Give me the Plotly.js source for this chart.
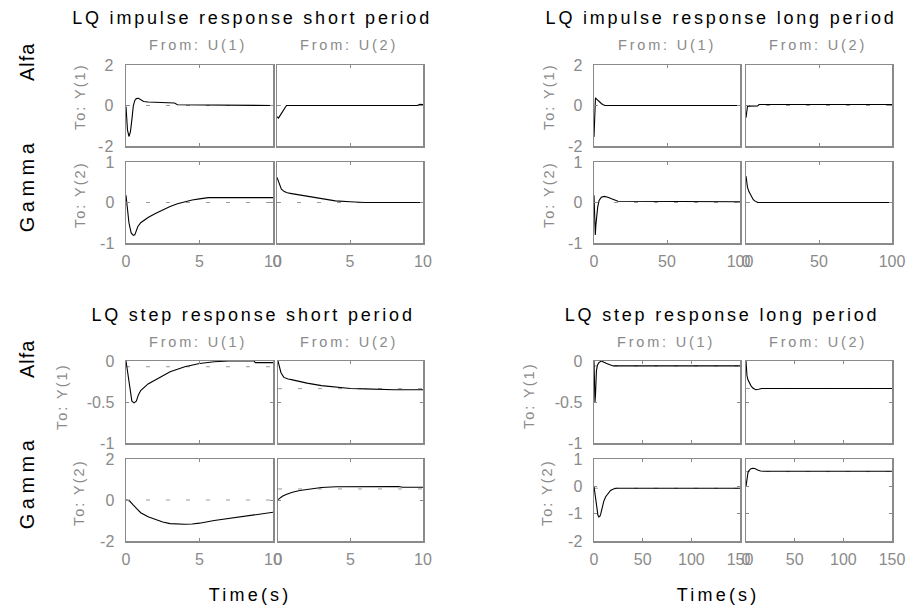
<!DOCTYPE html>
<html>
<head>
<meta charset="utf-8">
<script src="https://cdn.plot.ly/plotly-3.0.1.min.js"></script>
<style>
  html,body{margin:0;padding:0;background:#fff;}
  .xtick text,.ytick text{letter-spacing:1px;}
</style>
</head>
<body>
<div id="chart" style="width:909px;height:611px;"></div>
<script>
// ---------- Titles / labels ----------
const groupTitles = ['LQ impulse response short period','LQ impulse response long period',
                     'LQ step response short period','LQ step response long period'];
const fromLabels = ['From: U(1)','From: U(2)'];
const toLabels = ['To: Y(1)','To: Y(2)'];
const rowNames = ['Alfa','Gamma'];
const timeLabel = 'Time(s)';

// ---------- Axis ticks ----------
const xTickShort = [0,5,10];       const xTickShortText = ['0','5','10'];
const xTickImpLong = [0,50,100];   const xTickImpLongText = ['0','50','100'];
const xTickStepLong = [0,50,100,150]; const xTickStepLongText = ['0','50','100','150'];
const yTickImpY1 = [-2,0,2];       const yTickImpY1Text = ['-2','0','2'];
const yTickImpY2 = [-1,0,1];       const yTickImpY2Text = ['-1','0','1'];
const yTickStepY1 = [-1,-0.5,0];   const yTickStepY1Text = ['-1','-0.5','0'];
const yTickStepSY2 = [-2,0,2];     const yTickStepSY2Text = ['-2','0','2'];
const yTickStepLY2 = [-2,-1,0,1];  const yTickStepLY2Text = ['-2','-1','0','1'];

// ---------- Impulse response, short period ----------
const impS11_t = [0,0.1,0.2,0.3,0.4,0.5,0.6,0.7,0.85,1.0,1.2,1.5,2,3,3.3,3.5,5,7.4,7.6,10];
const impS11_y = [-0.05,-1.2,-1.53,-1.3,-0.7,0,0.25,0.34,0.36,0.3,0.2,0.17,0.15,0.13,0.12,0.04,0.03,0.03,0,0];
const impS12_t = [0,0.1,0.25,0.45,0.65,9.6,9.8,10];
const impS12_y = [-0.55,-0.62,-0.45,-0.2,0,0,0.06,0.05];
const impS21_t = [0,0.1,0.2,0.35,0.5,0.6,0.7,0.8,1.0,1.5,2,2.5,3,3.5,4,4.5,5,5.6,10];
const impS21_y = [0.18,-0.2,-0.5,-0.75,-0.81,-0.8,-0.72,-0.6,-0.5,-0.37,-0.27,-0.18,-0.1,-0.03,0.02,0.06,0.09,0.12,0.12];
const impS22_t = [0,0.15,0.3,0.5,0.7,1,1.5,2,2.5,3,3.5,4,5,6,8,10];
const impS22_y = [0.62,0.45,0.33,0.27,0.24,0.22,0.19,0.16,0.12,0.09,0.06,0.04,0.02,0,0,0];

// ---------- Impulse response, long period ----------
const impL11_t = [0,0.3,0.6,1,2,3,4,5,6,7.5,100];
const impL11_y = [-1.55,-1.0,0.1,0.38,0.3,0.22,0.15,0.1,0.05,0,0];
const impL12_t = [0,0.5,1,2,8,9,100];
const impL12_y = [-0.6,-0.3,-0.05,-0.03,-0.02,0.05,0.05];
const impL21_t = [0,0.4,0.9,1.3,1.8,2.5,3.5,5,7,9.5,12,14,16.5,100];
const impL21_y = [0.18,-0.5,-0.8,-0.55,-0.3,-0.12,0.05,0.13,0.15,0.13,0.09,0.06,0.03,0.02];
const impL22_t = [0,0.5,1,2,3,4,5,6,8,100];
const impL22_y = [0.65,0.5,0.38,0.27,0.19,0.12,0.07,0.04,0,0];

// ---------- Step response, short period ----------
const stepS11_t = [0,0.1,0.2,0.3,0.4,0.55,0.7,0.85,1.0,1.5,2,2.5,3,3.5,4,5,6,7,8.7,8.8,10];
const stepS11_y = [0,-0.12,-0.28,-0.42,-0.49,-0.51,-0.49,-0.41,-0.36,-0.28,-0.23,-0.17,-0.13,-0.1,-0.07,-0.03,-0.01,0,0,-0.02,-0.02];
const stepS12_t = [0,0.1,0.2,0.4,0.7,1,1.5,2,3,4,5,6,7,8,10];
const stepS12_y = [0,-0.08,-0.14,-0.2,-0.22,-0.23,-0.25,-0.27,-0.3,-0.32,-0.335,-0.34,-0.345,-0.35,-0.35];
const stepS21_t = [0,0.25,0.5,0.75,1,1.5,2,2.5,3,3.5,4,4.5,5,6,7,8,9,10];
const stepS21_y = [0,-0.05,-0.25,-0.45,-0.62,-0.82,-0.95,-1.07,-1.15,-1.18,-1.18,-1.17,-1.13,-1.0,-0.9,-0.82,-0.73,-0.6];
const stepS22_t = [0,0.3,0.6,1,1.5,2,2.5,3,4,5,8.3,8.6,10];
const stepS22_y = [0.02,0.18,0.28,0.38,0.46,0.52,0.57,0.61,0.65,0.66,0.66,0.62,0.62];

// ---------- Step response, long period ----------
const stepL11_t = [0,0.5,1,1.5,2,2.5,3.5,5,7.5,10,13,17,20,150];
const stepL11_y = [0,-0.3,-0.5,-0.42,-0.25,-0.12,-0.05,-0.02,0,-0.01,-0.03,-0.05,-0.06,-0.06];
const stepL12_t = [0,0.5,1,2,3.5,5,7,10,13,16,150];
const stepL12_y = [0,-0.12,-0.18,-0.23,-0.27,-0.3,-0.33,-0.35,-0.345,-0.335,-0.335];
const stepL21_t = [0,1,2,3,4,5,6,7,8,10,12,14,17,20,23,150];
const stepL21_y = [0,-0.25,-0.55,-0.85,-1.05,-1.12,-1.1,-1.0,-0.85,-0.55,-0.38,-0.27,-0.15,-0.1,-0.07,-0.07];
const stepL22_t = [0,0.5,1,2,3,5,7,9,12,15,18,150];
const stepL22_y = [0,0.2,0.35,0.5,0.58,0.64,0.66,0.65,0.6,0.56,0.55,0.55];

// ---------- Steady-state (dashed) levels: [Y1U1, Y1U2, Y2U1, Y2U2] ----------
const ssImpShort = [0,0,0,0];
const ssImpLong = [0,0,0,0];
const ssStepShort = [-0.07,-0.337,0,0.54];
const ssStepLong = [-0.06,-0.335,-0.07,0.54];

// ---------- Build ----------
const W = 909, H = 611;
const FONT = 'Liberation Sans, Arial, Helvetica, sans-serif';
const GRAY = '#8a8a8a';
const px = v => v / W;
const py = v => 1 - v / H;

const groups = [
  {cols: [[126,273],[277,423]], rows: [[65,146],[162,243]],
   xr: [0,10], xt: xTickShort, xtt: xTickShortText,
   yr: [[-2,2],[-1,1]], yt: [yTickImpY1,yTickImpY2], ytt: [yTickImpY1Text,yTickImpY2Text],
   data: [[impS11_t,impS11_y],[impS12_t,impS12_y],[impS21_t,impS21_y],[impS22_t,impS22_y]], ss: ssImpShort},
  {cols: [[594,740],[746,892]], rows: [[65,146],[162,243]],
   xr: [0,100], xt: xTickImpLong, xtt: xTickImpLongText,
   yr: [[-2,2],[-1,1]], yt: [yTickImpY1,yTickImpY2], ytt: [yTickImpY1Text,yTickImpY2Text],
   data: [[impL11_t,impL11_y],[impL12_t,impL12_y],[impL21_t,impL21_y],[impL22_t,impL22_y]], ss: ssImpLong},
  {cols: [[126,273],[278,423]], rows: [[361,443],[459,541]],
   xr: [0,10], xt: xTickShort, xtt: xTickShortText,
   yr: [[-1,0],[-2,2]], yt: [yTickStepY1,yTickStepSY2], ytt: [yTickStepY1Text,yTickStepSY2Text],
   data: [[stepS11_t,stepS11_y],[stepS12_t,stepS12_y],[stepS21_t,stepS21_y],[stepS22_t,stepS22_y]], ss: ssStepShort},
  {cols: [[594,740],[746,892]], rows: [[361,443],[459,541]],
   xr: [0,150], xt: xTickStepLong, xtt: xTickStepLongText,
   yr: [[-1,0],[-2,1]], yt: [yTickStepY1,yTickStepLY2], ytt: [yTickStepY1Text,yTickStepLY2Text],
   data: [[stepL11_t,stepL11_y],[stepL12_t,stepL12_y],[stepL21_t,stepL21_y],[stepL22_t,stepL22_y]], ss: ssStepLong}
];

const traces = [];
const layout = {
  width: W, height: H, margin: {l:0,r:0,t:0,b:0},
  paper_bgcolor: '#fff', plot_bgcolor: '#fff', showlegend: false,
  font: {family: FONT, color: GRAY, size: 13},
  annotations: []
};

let k = 0;
groups.forEach((g) => {
  for (let r = 0; r < 2; r++) {
    for (let c = 0; c < 2; c++) {
      k++;
      const idx = r*2 + c;
      const xa = 'x' + (k === 1 ? '' : k), ya = 'y' + (k === 1 ? '' : k);
      const xk = 'xaxis' + (k === 1 ? '' : k), yk = 'yaxis' + (k === 1 ? '' : k);
      layout[xk] = {
        domain: [px(g.cols[c][0]), px(g.cols[c][1])], anchor: ya,
        range: g.xr, tickmode: 'array', tickvals: g.xt, ticktext: g.xtt,
        showticklabels: r === 1, ticks: 'inside', ticklen: 3, tickcolor: GRAY, tickwidth: 1,
        showline: true, mirror: 'ticks', linecolor: GRAY, linewidth: 1.5,
        showgrid: false, zeroline: false, fixedrange: true, ticklabelstandoff: 3,
        tickfont: {family: FONT, size: 16, color: GRAY}
      };
      layout[yk] = {
        domain: [py(g.rows[r][1]), py(g.rows[r][0])], anchor: xa,
        range: g.yr[r], tickmode: 'array', tickvals: g.yt[r], ticktext: g.ytt[r],
        showticklabels: c === 0, ticks: 'inside', ticklen: 3, tickcolor: GRAY, tickwidth: 1,
        showline: true, mirror: 'ticks', linecolor: GRAY, linewidth: 1.5,
        showgrid: false, zeroline: false, fixedrange: true, ticklabelstandoff: 7,
        tickfont: {family: FONT, size: 16, color: GRAY}
      };
      traces.push({x: [g.xr[0], g.xr[1]], y: [g.ss[idx], g.ss[idx]], xaxis: xa, yaxis: ya,
        mode: 'lines', line: {color: '#9a9a9a', width: 1, dash: '4px,16px'}, hoverinfo: 'skip'});
      traces.push({x: g.data[idx][0], y: g.data[idx][1], xaxis: xa, yaxis: ya,
        mode: 'lines', line: {color: '#000', width: 1.1}, hoverinfo: 'skip'});
    }
  }
});

function ann(text, x, y, size, color, angle) {
  layout.annotations.push({text: text, x: px(x), y: py(y), xref: 'paper', yref: 'paper',
    xanchor: 'center', yanchor: 'middle', showarrow: false, textangle: angle || 0,
    font: {family: FONT, size: size, color: color}});
}

// group titles
ann(groupTitles[0], 252, 18, 18, '#000');
ann(groupTitles[1], 721, 18, 18, '#000');
ann(groupTitles[2], 252.5, 315, 18, '#000');
ann(groupTitles[3], 721.7, 315, 18, '#000');
// From labels
[[197.5,45],[349,45],[666.7,45],[817.5,45],[197.5,342],[349,342],[666,342],[818,342]].forEach((p,i)=>{
  ann(fromLabels[i%2], p[0], p[1], 14.5, GRAY);
});
// To labels
ann(toLabels[0], 80, 97, 14.5, GRAY, -90);
ann(toLabels[1], 80, 195, 14.5, GRAY, -90);
ann(toLabels[0], 549, 97, 14.5, GRAY, -90);
ann(toLabels[1], 549, 195, 14.5, GRAY, -90);
ann(toLabels[0], 62, 397, 14.5, GRAY, -90);
ann(toLabels[1], 79, 493, 14.5, GRAY, -90);
ann(toLabels[0], 529, 396, 14.5, GRAY, -90);
ann(toLabels[1], 547, 493, 14.5, GRAY, -90);
// Row names
ann(rowNames[0], 27, 62, 20, '#000', -90);
ann(rowNames[1], 27, 185, 20, '#000', -90);
ann(rowNames[0], 27, 359, 20, '#000', -90);
ann(rowNames[1], 27, 482, 20, '#000', -90);
// Time labels
ann(timeLabel, 250, 595, 18, '#000');
ann(timeLabel, 718, 595, 18, '#000');

const spacing = {'Alfa': '1px', 'Gamma': '4.5px', 'Time(s)': '3.2px',
  'From: U(1)': '2.8px', 'From: U(2)': '2.8px', 'To: Y(1)': '2px', 'To: Y(2)': '2px'};

Plotly.newPlot('chart', traces, layout, {staticPlot: true, displayModeBar: false}).then(() => {
  document.querySelectorAll('.annotation-text').forEach(el => {
    const t = el.textContent;
    el.style.letterSpacing = spacing[t] || '2.8px';
  });
});
</script>
</body>
</html>
